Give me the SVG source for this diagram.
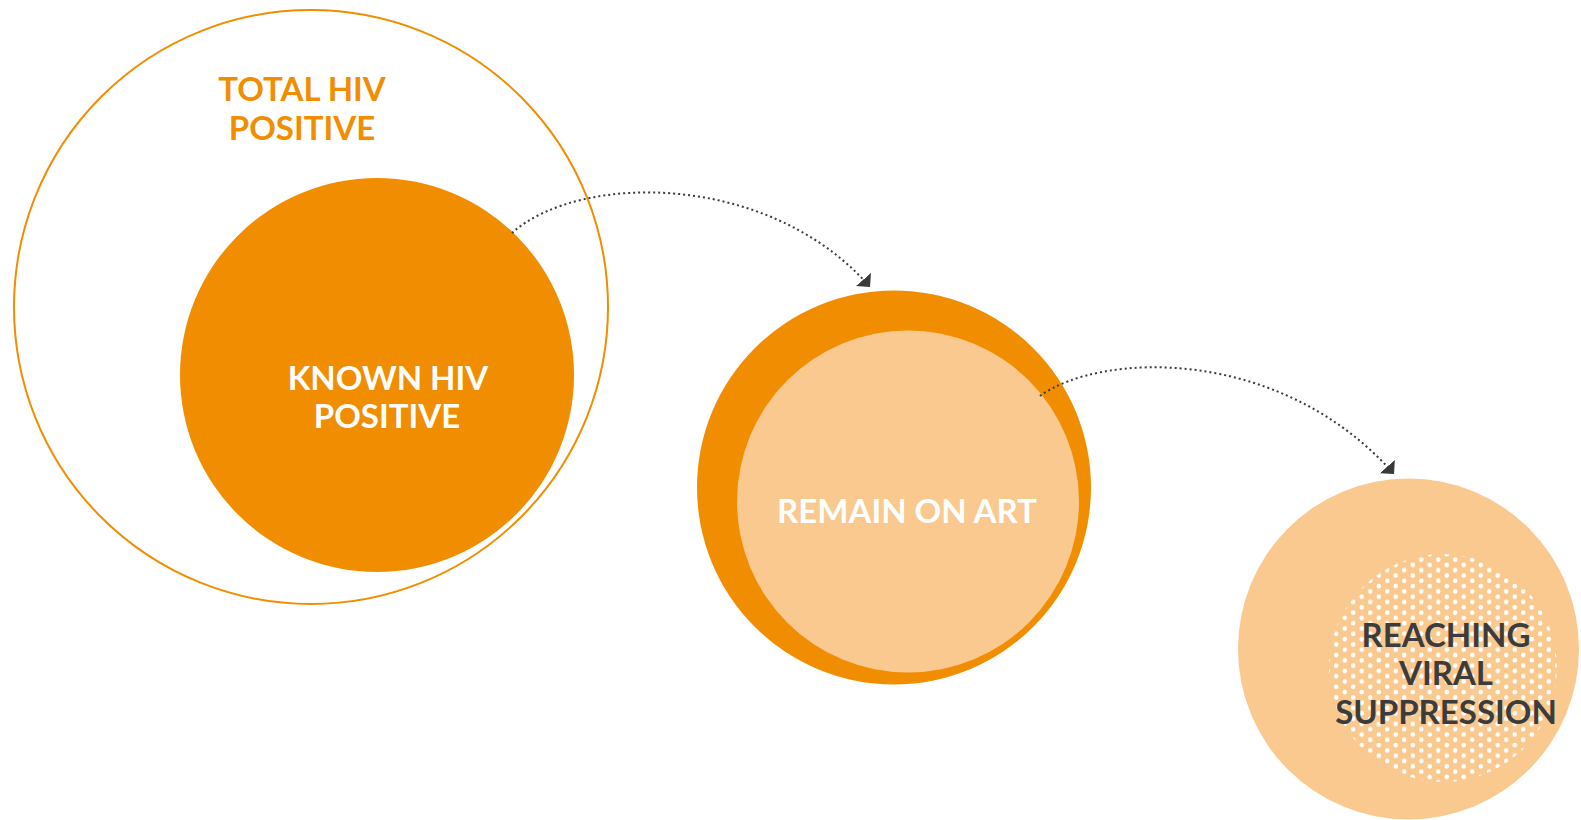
<svg xmlns="http://www.w3.org/2000/svg" width="1581" height="820" viewBox="0 0 1581 820">
  <defs>
    <style>
      .lbl { font-family: Lato, "Open Sans", "Liberation Sans", sans-serif; font-weight: 700; font-size: 33px; text-anchor: middle; }
      .orange { fill: #F18D00; }
      .white { fill: #FFFFFF; }
      .dark { fill: #3C3C3C; }
      .conn { fill: none; stroke: #3A3A3A; stroke-width: 2; stroke-dasharray: 2 3; }
    </style>
    <marker id="arrow" markerUnits="userSpaceOnUse" viewBox="0 -10 10 20" refX="10" refY="0" markerWidth="10" markerHeight="20" orient="auto">
      <path d="M0,-10 L10,0 L0,10 Z" fill="#3A3A3A"/>
    </marker>
    <pattern id="dots" patternUnits="userSpaceOnUse" width="17" height="10.6" x="1332" y="557">
      <circle cx="4.25" cy="2.65" r="2.3" fill="#FFFFFF"/>
      <circle cx="12.75" cy="7.95" r="2.3" fill="#FFFFFF"/>
    </pattern>
  </defs>

  <g id="total-hiv-positive">
    <circle cx="311" cy="307" r="297" fill="none" stroke="#F18D00" stroke-width="2"/>
    <text class="lbl orange" x="302" y="101">TOTAL HIV</text>
    <text class="lbl orange" x="302" y="140">POSITIVE</text>
  </g>

  <g id="known-hiv-positive">
    <circle cx="377" cy="375" r="197" fill="#F18D00"/>
    <text class="lbl white" x="388" y="390">KNOWN HIV</text>
    <text class="lbl white" x="387" y="428">POSITIVE</text>
  </g>

  <g id="remain-on-art">
    <circle cx="894" cy="487.5" r="197" fill="#F18D00"/>
    <circle cx="908" cy="501.5" r="171" fill="#F9C98F"/>
    <text class="lbl white" x="907" y="523">REMAIN ON ART</text>
  </g>

  <g id="viral-suppression">
    <circle cx="1408.5" cy="649" r="170.5" fill="#F9C98F"/>
    <circle cx="1443" cy="668" r="114" fill="url(#dots)"/>
    <text class="lbl dark" x="1446" y="647">REACHING</text>
    <text class="lbl dark" x="1446" y="685">VIRAL</text>
    <text class="lbl dark" x="1446" y="724">SUPPRESSION</text>
  </g>

  <g id="connectors">
    <path class="conn" d="M512,233 C580,172 770,172 870,287" marker-end="url(#arrow)"/>
    <path class="conn" d="M1040,396 C1100,352 1280,345 1394,474" marker-end="url(#arrow)"/>
  </g>
</svg>
